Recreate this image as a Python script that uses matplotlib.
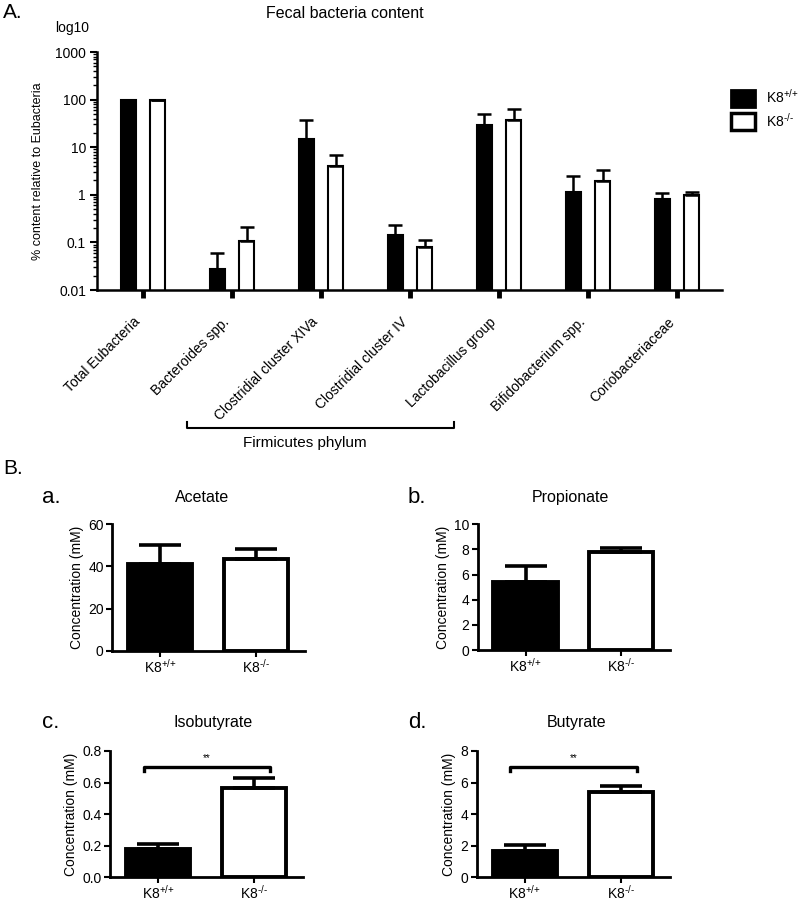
import matplotlib
matplotlib.use('Agg')
import matplotlib.pyplot as plt
from matplotlib.patches import Patch
import numpy as np

plt.rcParams['font.family'] = ['Liberation Sans', 'DejaVu Sans']
plt.rcParams['mathtext.fontset'] = 'custom'
plt.rcParams['mathtext.rm'] = 'Liberation Sans'
plt.rcParams['mathtext.default'] = 'regular'

# ---- panel A : fecal bacteria (% of Eubacteria, log scale) ----
groups = ['Total Eubacteria', 'Bacteroides spp.', 'Clostridial cluster XIVa',
          'Clostridial cluster IV', 'Lactobacillus group', 'Bifidobacterium spp.',
          'Coriobacteriaceae']
wt_mean = [100, 0.028, 15.0, 0.145, 29.0, 1.17, 0.82]
wt_err = [0, 0.031, 21.6, 0.092, 21.6, 1.29, 0.28]
ko_mean = [100, 0.109, 4.0, 0.082, 36.6, 1.93, 1.00]
ko_err = [0, 0.106, 2.9, 0.031, 25.9, 1.32, 0.12]
geno_labels = [r'K8$^{\text{+/+}}$', r'K8$^{\text{-/-}}$']

# ---- panel B : short chain fatty acids (mM) ----
scfa_names = ['Acetate', 'Propionate', 'Isobutyrate', 'Butyrate']
scfa_tags = ['a.', 'b.', 'c.', 'd.']
scfa_wt = [41.2, 5.43, 0.177, 1.68]
scfa_wt_err = [9.0, 1.27, 0.033, 0.37]
scfa_ko = [43.5, 7.82, 0.567, 5.38]
scfa_ko_err = [4.8, 0.32, 0.064, 0.42]
scfa_ymax = [60, 10, 0.8, 8]
scfa_yticks = [[0, 20, 40, 60], [0, 2, 4, 6, 8, 10],
               [0.0, 0.2, 0.4, 0.6, 0.8], [0, 2, 4, 6, 8]]
scfa_ytlab = [['0', '20', '40', '60'], ['0', '2', '4', '6', '8', '10'],
              ['0.0', '0.2', '0.4', '0.6', '0.8'], ['0', '2', '4', '6', '8']]
scfa_signif = ['', '', '**', '**']

W, H = 800, 901
fig = plt.figure(figsize=(8, 9.01), dpi=100)


def px(x, y, w, h):
    # pixel box (left, y of the x axis line, width, height) -> figure fraction
    return [x / W, 1 - y / H, w / W, h / H]


# ================= A =================
axA = fig.add_axes(px(97, 290, 625, 238))
x = np.arange(len(groups))
bw = 0.17
off = 0.165
axA.bar(x - off, wt_mean, bw, color='black', edgecolor='black', linewidth=1.5, zorder=2)
axA.bar(x + off, ko_mean, bw, color='white', edgecolor='black', linewidth=1.5, zorder=2)
axA.errorbar(x - off, wt_mean, yerr=[np.zeros(len(x)), wt_err], fmt='none', ecolor='black',
             elinewidth=1.8, capsize=4.7, capthick=1.8, zorder=3)
axA.errorbar(x + off, ko_mean, yerr=[np.zeros(len(x)), ko_err], fmt='none', ecolor='black',
             elinewidth=1.8, capsize=4.7, capthick=1.8, zorder=3)
axA.set_yscale('log')
axA.set_ylim(0.01, 1000)
axA.set_xlim(-0.517, 6.506)
axA.set_yticks([0.01, 0.1, 1, 10, 100, 1000])
axA.set_yticklabels(['0.01', '0.1', '1', '10', '100', '1000'], fontsize=10)
axA.set_xticks(x)
axA.set_xticklabels(groups, rotation=45, ha='right', fontsize=10)
axA.tick_params(axis='x', length=6, width=3.5, pad=12)
axA.tick_params(axis='y', which='major', length=5, width=1.5, pad=3)
axA.tick_params(axis='y', which='minor', length=3, width=1.0)
for s in ['top', 'right']:
    axA.spines[s].set_visible(False)
for s in ['left', 'bottom']:
    axA.spines[s].set_linewidth(1.8)
axA.set_ylabel('% content relative to Eubacteria', fontsize=9, labelpad=8)
axA.legend(handles=[Patch(facecolor='black', edgecolor='black', linewidth=2, label=geno_labels[0]),
                    Patch(facecolor='white', edgecolor='black', linewidth=2.5, label=geno_labels[1])],
           loc='upper left', bbox_to_anchor=(731 / W, 1 - 88 / H), bbox_transform=fig.transFigure,
           frameon=False, fontsize=10, handlelength=1.75, handleheight=1.45,
           handletextpad=0.75, labelspacing=0.35, borderpad=0, borderaxespad=0)

fig.text(3 / W, 1 - 12 / H, 'A.', fontsize=15, va='center', ha='left')
fig.text(345 / W, 1 - 14 / H, 'Fecal bacteria content', fontsize=11.5, va='center', ha='center')
fig.text(55 / W, 1 - 28 / H, 'log10', fontsize=10, va='center', ha='left')

# Firmicutes bracket
fig.add_artist(plt.Line2D([187 / W, 187 / W, 454 / W, 454 / W],
                          [1 - 422 / H, 1 - 428 / H, 1 - 428 / H, 1 - 422 / H],
                          color='black', linewidth=1.5))
fig.text(305 / W, 1 - 443 / H, 'Firmicutes phylum', fontsize=11, va='center', ha='center')

# ================= B =================
fig.text(3 / W, 1 - 469 / H, 'B.', fontsize=15, va='center', ha='left')

boxes = [(112, 650.7, 193, 126.4), (477.7, 650, 192.3, 125.7),
         (110, 877.3, 193, 126.3), (476.7, 877.3, 193.3, 126.3)]
tag_pos = [(42, 497), (408, 497), (42, 723), (408, 723)]
title_pos = [(202, 497), (570, 497), (213, 723), (577, 723)]

for i in range(4):
    ax = fig.add_axes(px(*boxes[i]))
    pos = [0, 1]
    ax.bar(pos, [scfa_wt[i], scfa_ko[i]], 0.67, color=['black', 'white'],
           edgecolor='black', linewidth=2.8, zorder=2)
    ax.errorbar(pos, [scfa_wt[i], scfa_ko[i]],
                yerr=[[0, 0], [scfa_wt_err[i], scfa_ko_err[i]]], fmt='none',
                ecolor='black', elinewidth=2.6, capsize=15, capthick=2.6, zorder=3)
    ax.set_xlim(-0.5, 1.51)
    ax.set_ylim(0, scfa_ymax[i])
    ax.set_yticks(scfa_yticks[i])
    ax.set_yticklabels(scfa_ytlab[i], fontsize=10)
    ax.set_xticks(pos)
    ax.set_xticklabels(geno_labels, fontsize=10)
    ax.tick_params(axis='y', length=4, width=1.5, pad=2)
    ax.tick_params(axis='x', length=4, width=1.5, pad=1)
    for s in ['top', 'right']:
        ax.spines[s].set_visible(False)
    for s in ['left', 'bottom']:
        ax.spines[s].set_linewidth(2.0)
    ax.set_ylabel('Concentration (mM)', fontsize=10, labelpad=3)
    if scfa_signif[i]:
        ym = scfa_ymax[i]
        yb = 0.875 * ym
        ax.plot([-0.15, -0.15, 1.17, 1.17], [yb - 0.03 * ym, yb, yb, yb - 0.03 * ym],
                color='black', linewidth=2.4, clip_on=False)
        ax.text(0.51, yb + 0.03 * ym, scfa_signif[i], fontsize=7, ha='center', va='bottom')
    fig.text(tag_pos[i][0] / W, 1 - tag_pos[i][1] / H, scfa_tags[i], fontsize=16,
             va='center', ha='left')
    fig.text(title_pos[i][0] / W, 1 - title_pos[i][1] / H, scfa_names[i], fontsize=11.5,
             va='center', ha='center')

fig.savefig('out.png', dpi=100)
